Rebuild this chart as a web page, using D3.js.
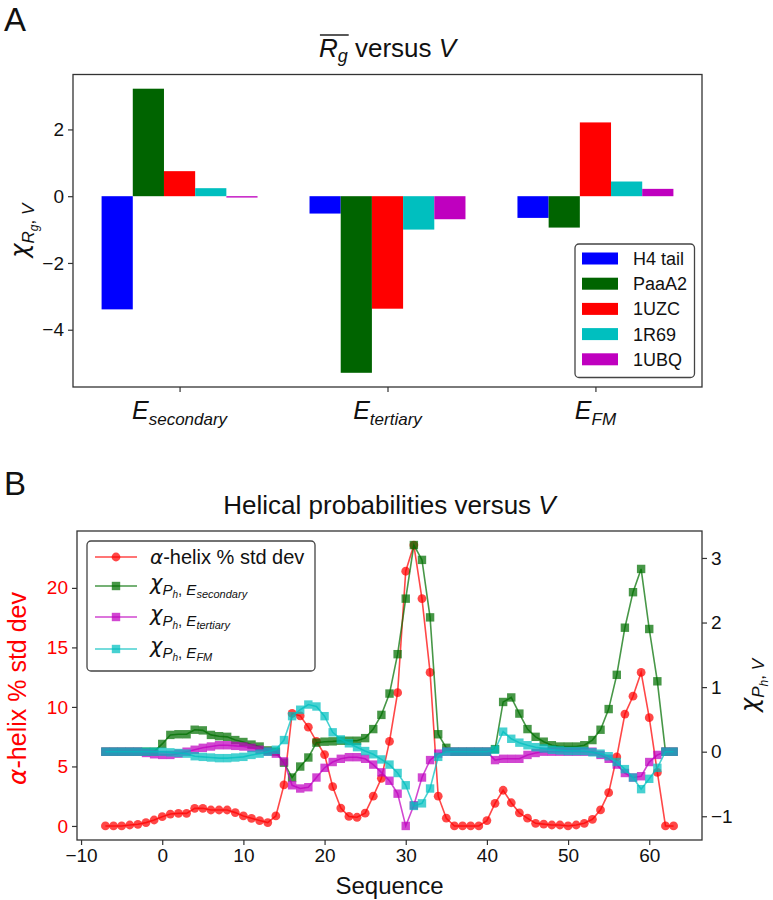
<!DOCTYPE html>
<html><head><meta charset="utf-8">
<script src="https://cdn.jsdelivr.net/npm/d3@7"></script>
<style>
body{margin:0;background:#fff}
svg{display:block}
text{font-family:"Liberation Sans",Arial,sans-serif;fill:#111}
</style>
</head><body>
<svg id="c" width="773" height="900"></svg>
<script>
// ---------- Panel A data ----------
const energyTerms = ["secondary", "tertiary", "FM"];
const proteins = ["H4 tail", "PaaA2", "1UZC", "1R69", "1UBQ"];
const proteinColors = ["#0000ff", "#006400", "#ff0000", "#00bfbf", "#bf00bf"];
const chiH4tail = [-3.39, -0.52, -0.65];
const chiPaaA2 = [3.22, -5.29, -0.94];
const chi1UZC = [0.75, -3.37, 2.21];
const chi1R69 = [0.24, -1.0, 0.44];
const chi1UBQ = [-0.04, -0.69, 0.22];
const barYTicks = [-4, -2, 0, 2];

// ---------- Panel B data ----------
const sequence = [-7,-6,-5,-4,-3,-2,-1,0,1,2,3,4,5,6,7,8,9,10,11,12,13,14,15,16,17,18,19,20,21,22,23,24,25,26,27,28,29,30,31,32,33,34,35,36,37,38,39,40,41,42,43,44,45,46,47,48,49,50,51,52,53,54,55,56,57,58,59,60,61,62,63];
const helixStd = [0,0,0,0.08,0.14,0.28,0.5,0.78,1.0,1.06,1.06,1.48,1.48,1.34,1.34,1.34,1.12,0.84,0.64,0.45,0.28,0.84,3.45,9.45,9.25,8.3,7.1,6.0,3.3,1.5,0.8,0.73,1.07,2.5,4.0,7.1,11.2,21.4,23.6,19.1,12.9,2.5,0.65,0,0,0,0,0.45,1.9,3.0,1.95,1.1,0.65,0.22,0.15,0.08,0.08,0,0.08,0.22,0.56,1.35,2.8,5.8,9.4,10.9,12.9,9.1,4.5,0,0];
const chiSecondary = [0,0,0,0,0,0,0,0.12,0.26,0.27,0.27,0.34,0.33,0.26,0.24,0.23,0.18,0.15,0.11,0.08,0.02,0,-0.17,-0.4,-0.23,-0.09,0.14,0.155,0.16,0.17,0.17,0.17,0.21,0.35,0.57,0.9,1.51,2.37,3.2,2.97,2.08,0.27,0.06,0,0,0,0,0,0.04,0.77,0.84,0.59,0.35,0.23,0.155,0.1,0.08,0.08,0.08,0.1,0.18,0.34,0.66,1.19,1.92,2.47,2.83,1.9,1.09,0,0];
const chiTertiary = [0,0,0,0,0,-0.02,-0.04,-0.05,-0.05,-0.03,0,0.03,0.06,0.08,0.1,0.1,0.09,0.08,0.06,0.03,0,-0.03,-0.15,-0.52,-0.57,-0.55,-0.4,-0.25,-0.16,-0.11,-0.085,-0.085,-0.11,-0.2,-0.32,-0.45,-0.65,-1.15,-0.83,-0.4,-0.13,-0.03,0,0,0,0,0,0,-0.13,-0.11,-0.11,-0.11,-0.05,-0.02,0,0,0,0,0,0,0,-0.05,-0.11,-0.2,-0.33,-0.4,-0.38,-0.16,-0.05,0,0];
const chiFM = [0,0,0,0,0,0,0,0,-0.01,-0.02,-0.03,-0.07,-0.08,-0.09,-0.1,-0.1,-0.09,-0.08,-0.05,-0.03,0,0.03,0.18,0.55,0.65,0.73,0.7,0.55,0.3,0.19,0.13,0.07,0.01,-0.04,-0.12,-0.2,-0.33,-0.52,-0.84,-0.8,-0.57,-0.08,0,0,0,0,0,0,0.03,0.31,0.2,0.14,0.1,0.07,0.05,0.03,0.02,0.01,0.01,0.01,-0.01,-0.03,-0.07,-0.16,-0.27,-0.4,-0.58,-0.42,-0.25,0,0];
const seqTicks = [-10,0,10,20,30,40,50,60];
const helixTicks = [0,5,10,15,20];
const chiTicks = [-1,0,1,2,3];

const svg = d3.select("#c");
const SPINE = "#333";
const GREEK = '"DejaVu Sans",sans-serif';

function rich(sel, x, y, parts, opts = {}) {
  const t = sel.append("text").attr("x", x).attr("y", y);
  if (opts.anchor) t.attr("text-anchor", opts.anchor);
  if (opts.transform) t.attr("transform", opts.transform);
  if (opts.fill) t.style("fill", opts.fill);
  parts.forEach(p => {
    const ts = t.append("tspan").text(p.t).attr("font-size", p.s);
    if (p.i) ts.attr("font-style", "italic");
    if (p.dy) ts.attr("dy", p.dy);
    if (p.g) ts.style("font-family", GREEK);
  });
  return t;
}
function styleAxis(g, size) {
  g.select(".domain").remove();
  g.selectAll(".tick line").attr("stroke", SPINE).attr("stroke-width", 1.2);
  g.selectAll(".tick text").attr("font-size", size).style("font-family", '"Liberation Sans",Arial,sans-serif');
}

// Panel letters
svg.append("text").attr("x", 4).attr("y", 31).attr("font-size", 33).text("A");
svg.append("text").attr("x", 4).attr("y", 495).attr("font-size", 33).text("B");

// ================= Panel A =================
const aL = 73, aR = 702, aT = 74.5, aB = 387;
const barSeries = [chiH4tail, chiPaaA2, chi1UZC, chi1R69, chi1UBQ];
const allBar = barSeries.flat();
const bMin = d3.min(allBar), bMax = d3.max(allBar), bPad = (bMax - bMin) * 0.05;
const xA = d3.scaleLinear().domain([-0.5125, 2.5125]).range([aL, aR]);
const yA = d3.scaleLinear().domain([bMin - bPad, bMax + bPad]).range([aB, aT]);
const barW = 0.15;

const gA = svg.append("g");
barSeries.forEach((vals, j) => {
  gA.selectAll(null).data(vals).enter().append("rect")
    .attr("x", (v, i) => xA(i + (j - 2) * barW - barW / 2))
    .attr("width", xA(barW) - xA(0))
    .attr("y", v => yA(Math.max(0, v)))
    .attr("height", v => Math.max(1, Math.abs(yA(v) - yA(0))))
    .attr("fill", proteinColors[j]);
});
gA.append("rect").attr("x", aL).attr("y", aT).attr("width", aR - aL).attr("height", aB - aT)
  .attr("fill", "none").attr("stroke", SPINE).attr("stroke-width", 1.3);
const axA = gA.append("g").attr("transform", `translate(${aL},0)`)
  .call(d3.axisLeft(yA).tickValues(barYTicks).tickSize(5).tickPadding(4).tickFormat(d3.format("d")));
styleAxis(axA, 19);
const axAx = gA.append("g").attr("transform", `translate(0,${aB})`)
  .call(d3.axisBottom(xA).tickValues([0, 1, 2]).tickSize(5).tickFormat(""));
styleAxis(axAx, 19);
energyTerms.forEach((t, i) => {
  rich(svg, xA(i), 419, [{t: "E", s: 25, i: true}, {t: t, s: 17, i: true, dy: 6}], {anchor: "middle"});
});
// y label A
rich(svg, 0, 0, [{t: "χ", s: 24, i: true, g: true}, {t: "R", s: 17, i: true, dy: 6}, {t: "g", s: 12, i: true, dy: 4},
  {t: ", ", s: 17, dy: -4}, {t: "V", s: 17, i: true}], {anchor: "middle", transform: `translate(28,${(aT + aB) / 2}) rotate(-90)`});
// title A
const tA = rich(svg, (aL + aR) / 2, 57, [{t: "R", s: 26, i: true}, {t: "g", s: 18, i: true, dy: 5},
  {t: " versus ", s: 26, dy: -5}, {t: "V", s: 26, i: true}], {anchor: "middle"});
{
  const n = tA.node();
  const x0 = n.getStartPositionOfChar(0).x, x1 = n.getEndPositionOfChar(1).x;
  svg.append("line").attr("x1", x0 + 1).attr("x2", x1 + 1).attr("y1", 35).attr("y2", 35)
    .attr("stroke", "#111").attr("stroke-width", 1.4);
}
// legend A
const lgA = svg.append("g");
lgA.append("rect").attr("x", 575).attr("y", 244).attr("width", 119.5).attr("height", 133.5)
  .attr("rx", 4).attr("fill", "#fff").attr("stroke", "#444").attr("stroke-width", 1.3);
proteins.forEach((p, j) => {
  const cy = 258.5 + j * 25.2;
  lgA.append("rect").attr("x", 582).attr("y", cy - 6).attr("width", 36).attr("height", 12).attr("fill", proteinColors[j]);
  lgA.append("text").attr("x", 633).attr("y", cy + 6.5).attr("font-size", 18).text(p);
});

// ================= Panel B =================
const bL = 77, bR = 702, bT = 531, bBot = 840;
const xB = d3.scaleLinear().domain([d3.min(sequence) - 3.5, d3.max(sequence) + 3.5]).range([bL, bR]);
const hMax = d3.max(helixStd), hMin = d3.min(helixStd), hPad = (hMax - hMin) * 0.05;
const yBL = d3.scaleLinear().domain([hMin - hPad, hMax + hPad]).range([bBot, bT]);
const chiAll = chiSecondary.concat(chiTertiary, chiFM);
const cMax = d3.max(chiAll), cMin = d3.min(chiAll), cPad = (cMax - cMin) * 0.05;
const yBR = d3.scaleLinear().domain([cMin - cPad, cMax + cPad]).range([bBot, bT]);

const gB = svg.append("g");
svg.append("clipPath").attr("id", "clipB").append("rect")
  .attr("x", bL).attr("y", bT).attr("width", bR - bL).attr("height", bBot - bT);
const plotB = gB.append("g").attr("clip-path", "url(#clipB)");

const seriesB = [
  {vals: helixStd, y: yBL, color: "#ff0000", marker: "circle"},
  {vals: chiSecondary, y: yBR, color: "#006f00", marker: "square"},
  {vals: chiTertiary, y: yBR, color: "#bf00bf", marker: "square"},
  {vals: chiFM, y: yBR, color: "#00bfbf", marker: "square"}
];
const ALPHA = 0.72;
function drawMarker(g, m, cx, cy, color) {
  if (m === "circle") {
    g.append("circle").attr("cx", cx).attr("cy", cy).attr("r", 4.4)
      .attr("fill", color).attr("fill-opacity", ALPHA);
  } else {
    g.append("rect").attr("x", cx - 4.2).attr("y", cy - 4.2).attr("width", 8.4).attr("height", 8.4)
      .attr("fill", color).attr("fill-opacity", ALPHA);
  }
}
seriesB.forEach(s => {
  const g = plotB.append("g");
  const line = d3.line().x((d, i) => xB(sequence[i])).y(d => s.y(d));
  g.append("path").attr("d", line(s.vals)).attr("fill", "none").attr("stroke", s.color)
    .attr("stroke-opacity", ALPHA).attr("stroke-width", 1.6);
  s.vals.forEach((v, i) => drawMarker(g, s.marker, xB(sequence[i]), s.y(v), s.color));
});

gB.append("rect").attr("x", bL).attr("y", bT).attr("width", bR - bL).attr("height", bBot - bT)
  .attr("fill", "none").attr("stroke", SPINE).attr("stroke-width", 1.3);
const axBx = gB.append("g").attr("transform", `translate(0,${bBot})`)
  .call(d3.axisBottom(xB).tickValues(seqTicks).tickSize(5).tickPadding(4).tickFormat(d3.format("d")));
styleAxis(axBx, 19);
const axBl = gB.append("g").attr("transform", `translate(${bL},0)`)
  .call(d3.axisLeft(yBL).tickValues(helixTicks).tickSize(5).tickPadding(4).tickFormat(d3.format("d")));
styleAxis(axBl, 19);
axBl.selectAll(".tick text").style("fill", "#ff0000");
const axBr = gB.append("g").attr("transform", `translate(${bR},0)`)
  .call(d3.axisRight(yBR).tickValues(chiTicks).tickSize(5).tickPadding(4).tickFormat(d3.format("d")));
styleAxis(axBr, 19);

svg.append("text").attr("x", (bL + bR) / 2).attr("y", 894).attr("text-anchor", "middle")
  .attr("font-size", 24).text("Sequence");
svg.append("text").attr("text-anchor", "middle").attr("font-size", 25).style("fill", "#ff0000")
  .attr("transform", `translate(26,${(bT + bBot) / 2 + 3}) rotate(-90)`)
  .call(t => { t.append("tspan").attr("font-style", "italic").style("font-family", GREEK).text("α"); t.append("tspan").text("-helix % std dev"); });
rich(svg, 0, 0, [{t: "χ", s: 24, i: true, g: true}, {t: "P", s: 17, i: true, dy: 6}, {t: "h", s: 12, i: true, dy: 4},
  {t: ", ", s: 17, dy: -4}, {t: "V", s: 17, i: true}], {anchor: "middle", transform: `translate(758,${(bT + bBot) / 2}) rotate(-90)`});

// title B
rich(svg, (bL + bR) / 2, 514, [{t: "Helical probabilities versus ", s: 26}, {t: "V", s: 26, i: true}], {anchor: "middle"});

// legend B
const lgB = svg.append("g");
lgB.append("rect").attr("x", 87).attr("y", 541).attr("width", 228).attr("height", 130)
  .attr("rx", 4).attr("fill", "#fff").attr("stroke", "#444").attr("stroke-width", 1.3);
const legRows = [557, 586, 617, 649];
const legSub = ["secondary", "tertiary", "FM"];
seriesB.forEach((s, k) => {
  const cy = legRows[k];
  lgB.append("line").attr("x1", 95).attr("x2", 137).attr("y1", cy).attr("y2", cy)
    .attr("stroke", s.color).attr("stroke-opacity", ALPHA).attr("stroke-width", 1.6);
  drawMarker(lgB, s.marker, 116, cy, s.color);
  if (k === 0) {
    lgB.append("text").attr("x", 150).attr("y", cy + 7).attr("font-size", 20)
      .call(t => { t.append("tspan").attr("font-style", "italic").style("font-family", GREEK).text("α"); t.append("tspan").text("-helix % std dev"); });
  } else {
    rich(lgB, 150, cy + 4, [{t: "χ", s: 21, i: true, g: true}, {t: "P", s: 15, i: true, dy: 5}, {t: "h", s: 10, i: true, dy: 3},
      {t: ", ", s: 15, dy: -3}, {t: "E", s: 15, i: true}, {t: legSub[k - 1], s: 11, i: true, dy: 3}]);
  }
});
</script>
</body></html>
